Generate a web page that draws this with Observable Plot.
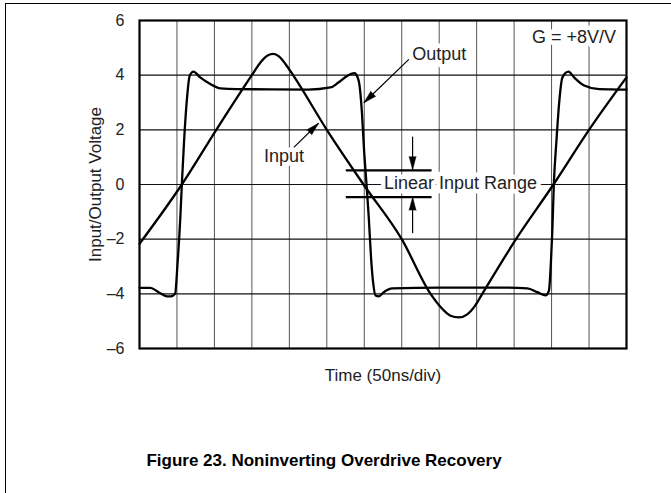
<!DOCTYPE html>
<html><head><meta charset="utf-8">
<script src="https://cdn.jsdelivr.net/npm/d3@7"></script>
<script src="https://cdn.jsdelivr.net/npm/@observablehq/plot@0.6"></script>
<style>
body{margin:0;background:#fff;width:671px;height:493px;overflow:hidden;position:relative;font-family:"Liberation Sans",Arial,sans-serif}
#chart{position:absolute;left:0;top:0}
#border{position:absolute;left:5px;top:3px;width:700px;height:600px;border-top:1.4px solid #000;border-left:1.6px solid #000;pointer-events:none}
</style></head><body>
<div id="chart"></div><div id="border"></div>
<script>
// Time in divisions (50 ns/div), voltage in volts
const xGrid = [1, 2, 3, 4, 5, 6, 7, 8, 9, 10, 11, 12];
const yGrid = [-4, -2, 0, 2, 4];
const yTicks = [-6, -4, -2, 0, 2, 4, 6];

const inputT = [0, 1.13, 2.05, 3.0, 3.25, 3.42, 3.57, 3.73, 3.9, 4.1, 5.0, 5.98, 7.0, 7.77, 8.05, 8.3, 8.53, 8.75, 8.95, 9.15, 10.05, 11.05, 12.0, 13];
const inputV = [-2.17, 0, 2, 4, 4.5, 4.72, 4.78, 4.68, 4.4, 4.0, 2.0, 0, -2, -4, -4.5, -4.8, -4.86, -4.75, -4.45, -4.0, -2, 0, 2, 3.92];

const outputT = [0, 0.29, 0.51, 0.73, 0.84, 0.95, 1.015, 1.09, 1.13, 1.19, 1.27, 1.34, 1.44, 1.62, 1.89, 2.16, 2.6, 3.5, 4.5, 5.1, 5.3, 5.5, 5.65, 5.74, 5.85, 5.94, 5.99, 6.06, 6.12, 6.18, 6.24, 6.3, 6.39, 6.52, 6.75, 8, 9.5, 10.35, 10.62, 10.84, 10.93, 10.98, 11.02, 11.06, 11.13, 11.2, 11.29, 11.45, 11.6, 11.87, 12.22, 12.6, 13];
const outputV = [-3.78, -3.78, -3.94, -4.09, -4.09, -4.0, -2.9, -1.2, 0, 1.6, 3.19, 3.98, 4.13, 3.92, 3.68, 3.52, 3.49, 3.48, 3.47, 3.55, 3.72, 3.93, 4.05, 4.07, 3.8, 2.58, 1.36, 0, -1.2, -2.66, -3.63, -4.06, -4.09, -3.94, -3.8, -3.77, -3.77, -3.8, -3.94, -4.06, -3.88, -2.9, -1.69, 0, 1.6, 2.95, 3.92, 4.13, 3.92, 3.62, 3.5, 3.48, 3.47];

// annotations (data units)
const labelText = ["G = +8V/V", "Output", "Input", "Linear Input Range"];
const labelX = [11.6, 8.0, 3.86, 8.57];
const labelY = [5.39, 4.75, 1.05, 0.03];

const arrowX1 = [7.19, 4.12, 7.29, 7.29];
const arrowY1 = [4.58, 1.36, 1.75, -1.78];
const arrowX2 = [5.99, 4.78, 7.29, 7.29];
const arrowY2 = [2.99, 2.24, 0.55, -0.47];

const rangeV = [0.52, -0.46];
const rangeX = [5.52, 7.81];

// layout
const W = 671, H = 493, mL = 139, mR = 45, mT = 20, mB = 145;
const xDom = [0, 13], yDom = [-6, 6];
const kx = (W - mL - mR) / (xDom[1] - xDom[0]);
const ky = (H - mT - mB) / (yDom[1] - yDom[0]);

const inputData = inputT.map((t, i) => ({t, v: inputV[i]}));
const outputData = outputT.map((t, i) => ({t, v: outputV[i]}));
const labels = labelText.map((s, i) => ({s, x: labelX[i], y: labelY[i]}));
const arrows = arrowX1.map((x1, i) => {
  const x2 = arrowX2[i], y1 = arrowY1[i], y2 = arrowY2[i];
  const a = Math.atan2((x2 - x1) * kx, (y2 - y1) * ky) * 180 / Math.PI;
  return {x1, y1, x2, y2, a};
});

const fmt = d => d < 0 ? "\u2013" + (-d) : String(d);
const FONT = '"Liberation Sans", Arial, Helvetica, sans-serif';

const chart = Plot.plot({
  width: W, height: H,
  marginLeft: mL, marginRight: mR, marginTop: mT, marginBottom: mB,
  style: {fontFamily: FONT, fontSize: "16px", color: "#222", background: "transparent"},
  x: {domain: xDom, axis: null},
  y: {domain: yDom, ticks: yTicks, tickSize: 0, tickPadding: 15, tickFormat: fmt, label: null},
  marks: [
    Plot.ruleX(xGrid, {stroke: "#555", strokeWidth: 1}),
    Plot.ruleY(yGrid, {stroke: "#111", strokeWidth: 1.2}),
    Plot.text(labels, {x: "x", y: "y", text: "s", fontSize: 18, fill: "#222", stroke: "white", strokeWidth: 9}),
    Plot.ruleY(rangeV, {x1: rangeX[0], x2: rangeX[1], stroke: "black", strokeWidth: 2.2}),
    Plot.link(arrows, {x1: "x1", y1: "y1", x2: "x2", y2: "y2", stroke: "black", strokeWidth: 1.2}),
    Plot.vector(arrows, {x: "x2", y: "y2", rotate: "a", length: 13, r: 3.5, shape: "spike", anchor: "end", fill: "black", stroke: "black", strokeWidth: 0.5}),
    Plot.line(inputData, {x: "t", y: "v", stroke: "black", strokeWidth: 2.3, curve: "monotone-x"}),
    Plot.line(outputData, {x: "t", y: "v", stroke: "black", strokeWidth: 2.3, curve: "monotone-x"}),
    Plot.frame({stroke: "black", strokeWidth: 2.2}),
    Plot.text(["Input/Output Voltage"], {text: d => d, frameAnchor: "left", dx: -44, rotate: -90, textAnchor: "middle", lineAnchor: "middle", fontSize: 17, fill: "#222"}),
    Plot.text(["Time (50ns/div)"], {text: d => d, frameAnchor: "bottom", dy: 27, textAnchor: "middle", lineAnchor: "middle", fontSize: 17, fill: "#222"}),
    Plot.text(["Figure 23. Noninverting Overdrive Recovery"], {text: d => d, frameAnchor: "bottom", dx: -59, dy: 112, textAnchor: "middle", lineAnchor: "middle", fontSize: 17, fontWeight: "bold", fill: "#000"})
  ]
});
document.getElementById("chart").appendChild(chart);
</script></body></html>
